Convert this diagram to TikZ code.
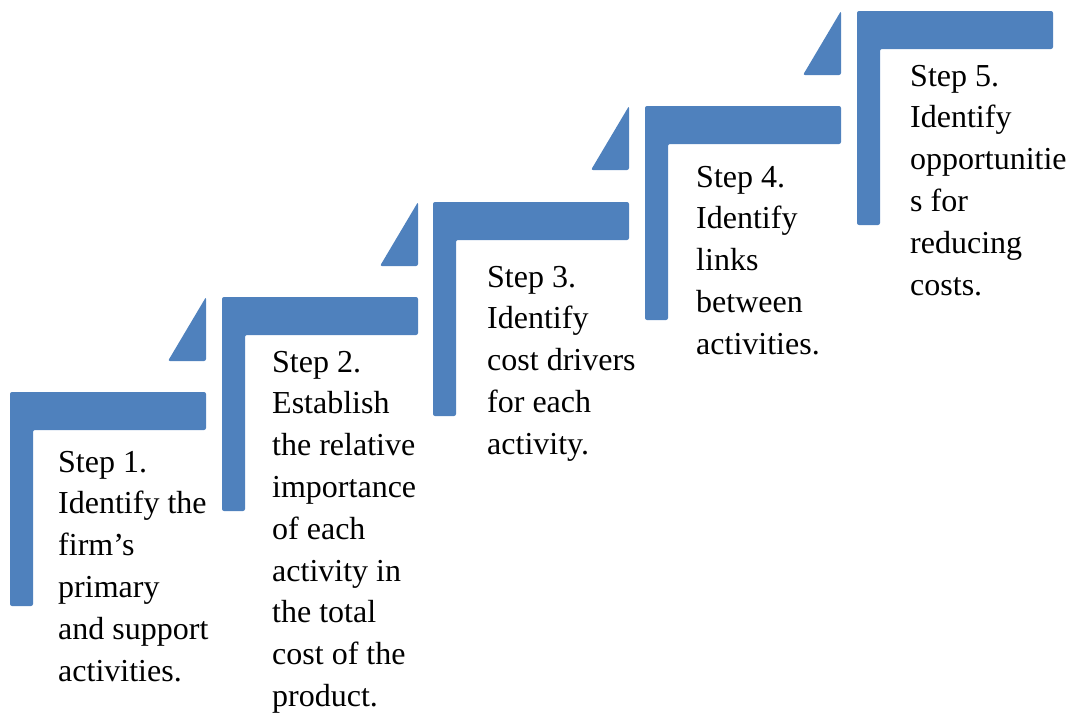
\documentclass[tikz,border=0pt]{standalone}
\usepackage{fontspec}
\setmainfont{Liberation Serif}
\definecolor{stepblue}{RGB}{79,129,189}
\tikzset{
  stair/.style={fill=stepblue, draw=none, rounded corners=2pt},
  steptext/.style={anchor=base west, inner sep=0pt, font=\fontsize{32}{41.8}\selectfont}
}
% L-shaped bracket: top-left corner at (#1,#2)
\newcommand{\stairshape}[2]{%
  \fill[stair] (#1,#2) -- ++(196,0) -- ++(0,38) -- ++(-173,0) -- ++(0,176) -- ++(-23,0) -- cycle;}
% small triangle ending at the right edge #1, top at #2
\newcommand{\stairwedge}[2]{%
  \fill[stair] (#1-38,#2+64) -- (#1,#2) -- (#1,#2+64) -- cycle;}
\newcommand{\steplines}[1]{\begin{tabular}[t]{@{}l@{}}#1\end{tabular}}
\begin{document}
\begin{tikzpicture}[x=1pt,y=-1pt]
\useasboundingbox (0,0) rectangle (1073,715);
% brackets
\stairshape{10}{392}
\stairshape{222}{297}
\stairshape{433}{202}
\stairshape{645}{106}
\stairshape{857}{11}
% wedges leading to the next bracket
\stairwedge{206}{297}
\stairwedge{418}{202}
\stairwedge{629}{106}
\stairwedge{841}{11}
% step descriptions
\node[steptext] (s1) at (58,472) {\steplines{Step 1.\\Identify the\\firm’s\\primary\\and support\\activities.}};
\node[steptext] (s2) at (272,372) {\steplines{Step 2.\\Establish\\the relative\\importance\\of each\\activity in\\the total\\cost of the\\product.}};
\node[steptext] (s3) at (487,287) {\steplines{Step 3.\\Identify\\cost drivers\\for each\\activity.}};
\node[steptext] (s4) at (696,187) {\steplines{Step 4.\\Identify\\links\\between\\activities.}};
\node[steptext] (s5) at (910,86) {\steplines{Step 5.\\Identify\\opportunitie\\s for\\reducing\\costs.}};
\end{tikzpicture}
\end{document}
